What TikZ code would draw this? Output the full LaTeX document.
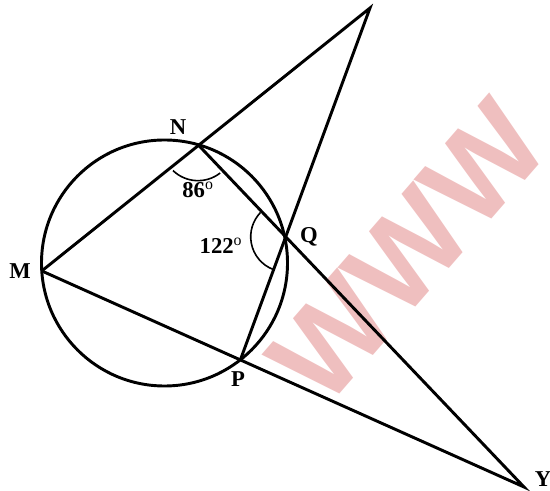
\documentclass[tikz,border=0pt]{standalone}
\usepackage{fontspec}
\setmainfont{Liberation Serif}
\newfontfamily\wmfont{Liberation Sans}
\usetikzlibrary{calc}
\definecolor{wmpink}{RGB}{239,191,191}
\tikzset{lbl/.style={font=\fontsize{17}{20}\selectfont\bfseries},
  seg/.style={line width=2.2pt, line join=miter},
  angarc/.style={line width=1.2pt}}
\begin{document}
\begin{tikzpicture}[x=0.75pt, y=-0.75pt]
\useasboundingbox (0,0) rectangle (550,491);
\clip (0,0) rectangle (550,491);
% watermark
\node[wmpink, rotate=49, font=\wmfont\bfseries\fontsize{92}{100}\selectfont] (wm) at (408,252) {WWW};
% circle and points on it
\coordinate (O) at (164.5,263);
\coordinate (M) at ($(O)+(176.3:123)$);
\coordinate (N) at ($(O)+(-74.2:123)$);
\coordinate (P) at ($(O)+(51.9:123)$);
\coordinate (X) at (370,8);
\coordinate (Y) at (524,487);
\coordinate (Q) at (intersection of N--Y and X--P);
\draw[seg] (O) circle[radius=123];
\draw[seg] (M)--(X)--(P);
\draw[seg] (N)--(Y)--(M);
% angles
\draw[angarc] (N) ++(134:36) arc[start angle=134, end angle=52, radius=36];
\draw[angarc] (Q) ++(110:35) arc[start angle=110, end angle=224, radius=35];
\node[lbl] (a86) at (198,190) {86\textsuperscript{\mdseries o}};
\node[lbl] (a122) at (221,246) {122\textsuperscript{\mdseries o}};
% labels
\node[lbl] (lM) at (20,271) {M};
\node[lbl] (lN) at (178,127) {N};
\node[lbl] (lQ) at (309,237) {Q};
\node[lbl] (lP) at (238,379) {P};
\node[lbl] (lY) at (543,479) {Y};
\end{tikzpicture}
\end{document}
